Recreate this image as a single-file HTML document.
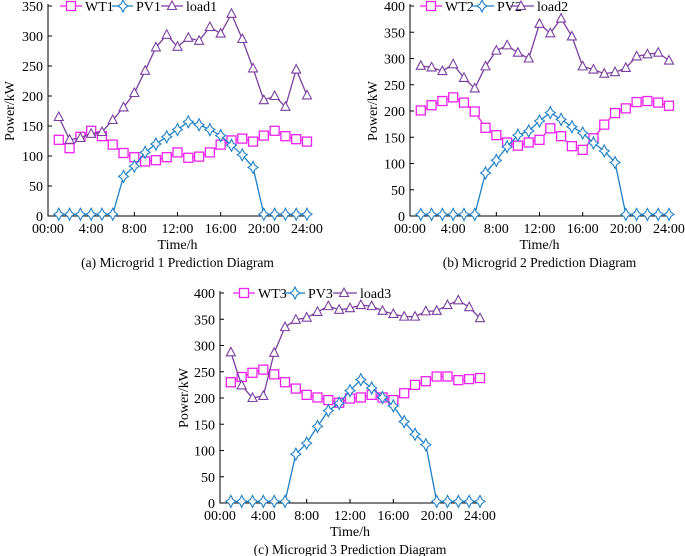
<!DOCTYPE html>
<html><head><meta charset="utf-8">
<style>
html,body{margin:0;padding:0;background:#fff;}
svg{display:block;font-family:"Liberation Serif",serif;}
</style></head>
<body>
<svg id="root" width="685" height="556" viewBox="0 0 685 556" xmlns="http://www.w3.org/2000/svg"></svg>
<script>
const hours = [1,2,3,4,5,6,7,8,9,10,11,12,13,14,15,16,17,18,19,20,21,22,23,24];
const xTickLabels = ["00:00","4:00","8:00","12:00","16:00","20:00","24:00"];
const xTickValues = [0,4,8,12,16,20,24];

const wt1 = [127,113,132,142,133,119,105,98,91,93,98,106,97,99,106,119,126,129,124,134,142,133,128,124];
const pv1 = [3,3,3,3,3,3,66,83,106,120,132,144,157,152,144,134,118,102,81,3,3,3,3,3];
const load1 = [165,127,130,137,140,160,181,205,242,281,302,282,297,292,315,304,337,295,246,193,200,182,244,201];
const yTicks1 = [0,50,100,150,200,250,300,350];

const wt2 = [201,211,219,226,216,199,168,154,140,134,140,145,167,152,133,126,148,174,196,205,217,219,216,210];
const pv2 = [3,3,3,3,3,3,82,106,132,154,162,181,197,184,170,158,139,124,102,3,3,3,3,3];
const load2 = [286,283,276,289,263,243,285,315,325,311,300,366,348,376,342,285,279,271,274,282,304,308,311,296];
const yTicks2 = [0,50,100,150,200,250,300,350,400];

const wt3 = [230,240,248,254,245,230,218,206,201,196,191,199,201,206,201,196,209,225,232,241,241,234,236,238];
const pv3 = [3,3,3,3,3,3,93,114,146,176,190,214,235,219,201,185,155,131,111,3,3,3,3,3];
const load3 = [287,224,200,204,286,335,349,353,364,375,368,371,377,375,366,360,355,355,365,366,377,386,373,352];
const yTicks3 = [0,50,100,150,200,250,300,350,400];

const NS = "http://www.w3.org/2000/svg";
const root = document.getElementById("root");
function mk(tag, attrs, parent){
  const e = document.createElementNS(NS, tag);
  for (const k in attrs) e.setAttribute(k, attrs[k]);
  (parent||root).appendChild(e);
  return e;
}
const WT_C = "#ee22ee", PV_C = "#1f80c8", LD_C = "#7a3fa0";

function marker(g, type, x, y, color){
  let m;
  if (type === "sq") {
    m = mk("rect", {x:x-4.5, y:y-4.5, width:9, height:9, fill:"#fff", stroke:color, "stroke-width":1.3}, g);
  } else if (type === "tri") {
    m = mk("path", {d:`M${x},${y-5} L${x+4.5},${y+3.5} L${x-4.5},${y+3.5} Z`, fill:"#fff", stroke:color, "stroke-width":1.1}, g);
  } else {
    m = mk("path", {d:`M${x},${y-6} L${x+2},${y-2} L${x+5},${y} L${x+2},${y+2} L${x},${y+6} L${x-2},${y+2} L${x-5},${y} L${x-2},${y-2} Z`, fill:"#fff", stroke:color, "stroke-width":1.1}, g);
  }
  
  
}

function chart(cfg){
  const g = mk("g", {});
  
  
  const xS = h => cfg.x0 + (cfg.x1 - cfg.x0) * h / 24;
  const yS = v => cfg.y0 - (cfg.y0 - cfg.yTop) * v / cfg.yMax;
  const ax = mk("path", {d:`M${cfg.x0},${cfg.yTop-2} L${cfg.x0},${cfg.y0} L${cfg.x1+2},${cfg.y0}`, fill:"none", stroke:"#000", "stroke-width":1}, g);
  
  
  cfg.yTicks.forEach(v => {
    const y = yS(v);
    mk("line", {x1:cfg.x0, x2:cfg.x0+4, y1:y, y2:y, stroke:"#000", "stroke-width":1}, g);
    const t = mk("text", {x:cfg.x0-5, y:y+5, "text-anchor":"end", "font-size":14}, g);
    t.textContent = v;
    
    
  });
  xTickValues.forEach((h, i) => {
    const x = xS(h);
    mk("line", {x1:x, x2:x, y1:cfg.y0, y2:cfg.y0-4, stroke:"#000", "stroke-width":1}, g);
    const t = mk("text", {x:x, y:cfg.y0+17, "text-anchor":"middle", "font-size":14}, g);
    t.textContent = xTickLabels[i];
    
    
  });
  const xt = mk("text", {x:(cfg.x0+cfg.x1)/2, y:cfg.y0+33, "text-anchor":"middle", "font-size":14}, g);
  xt.textContent = "Time/h";
  
  
  const yt = mk("text", {x:0, y:0, "text-anchor":"middle", "font-size":14, transform:`translate(${cfg.yLabelX},${(cfg.y0+cfg.yTop)/2}) rotate(-90)`}, g);
  yt.textContent = "Power/kW";
  
  
  const cap = mk("text", {x:(cfg.x0+cfg.x1)/2, y:cfg.y0+51, "text-anchor":"middle", "font-size":13.5}, g);
  cap.textContent = cfg.caption;
  
  

  cfg.series.forEach(s => {
    const pts = hours.map((h, i) => [xS(h), yS(s.vals[i])]);
    const ln = mk("polyline", {points:pts.map(p=>p.join(",")).join(" "), fill:"none", stroke:s.color, "stroke-width":1.3}, g);
    
    
    pts.forEach(p => marker(g, s.type, p[0], p[1], s.color));
  });
  cfg.series.forEach((s, i) => {
    const lg = mk("g", {}, g);
    
    
    const mx = cfg.legend[i][0], tx = cfg.legend[i][1], y = cfg.legendY;
    mk("line", {x1:mx-11, x2:tx-3, y1:y, y2:y, stroke:s.color, "stroke-width":1.3}, lg);
    marker(lg, s.type, mx, y, s.color);
    const t = mk("text", {x:tx, y:y+5, "font-size":14}, lg);
    t.textContent = s.label;
  });
}

chart({name:"microgrid-1-chart", x0:48, x1:307, y0:216, yTop:6, yMax:350, yTicks:yTicks1, yLabelX:14,
  caption:"(a) Microgrid 1 Prediction Diagram", legendY:6,
  legend:[[71,85],[123,136],[172,186]],
  series:[{label:"WT1", vals:wt1, color:WT_C, type:"sq"},{label:"PV1", vals:pv1, color:PV_C, type:"star"},{label:"load1", vals:load1, color:LD_C, type:"tri"}]});

chart({name:"microgrid-2-chart", x0:410, x1:669, y0:216, yTop:6, yMax:400, yTicks:yTicks2, yLabelX:377,
  caption:"(b) Microgrid 2 Prediction Diagram", legendY:6,
  legend:[[431,445],[482,497],[521,537]],
  series:[{label:"WT2", vals:wt2, color:WT_C, type:"sq"},{label:"PV2", vals:pv2, color:PV_C, type:"star"},{label:"load2", vals:load2, color:LD_C, type:"tri"}]});

chart({name:"microgrid-3-chart", x0:220, x1:480, y0:503, yTop:293, yMax:400, yTicks:yTicks3, yLabelX:188,
  caption:"(c) Microgrid 3 Prediction Diagram", legendY:293,
  legend:[[244,258],[295,308],[344,360]],
  series:[{label:"WT3", vals:wt3, color:WT_C, type:"sq"},{label:"PV3", vals:pv3, color:PV_C, type:"star"},{label:"load3", vals:load3, color:LD_C, type:"tri"}]});
</script>
</body></html>
